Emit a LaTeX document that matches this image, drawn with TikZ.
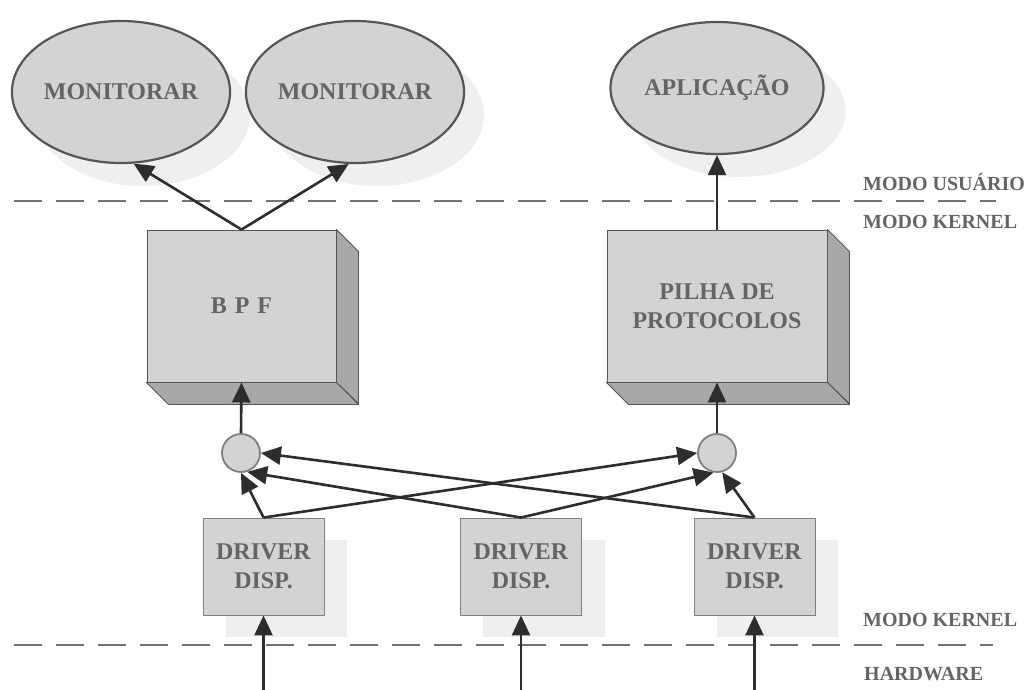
\documentclass[tikz,border=0pt]{standalone}
\usepackage{fontspec}
\setmainfont{Liberation Serif}
\usetikzlibrary{arrows.meta,shapes.geometric,backgrounds,calc}
\definecolor{txtc}{RGB}{100,100,100}
\definecolor{facec}{RGB}{211,211,211}
\definecolor{sidec}{RGB}{168,168,168}
\definecolor{shadc}{RGB}{239,239,239}
\definecolor{edgec}{RGB}{85,85,85}
\definecolor{arrc}{RGB}{45,45,45}
\definecolor{dashc}{RGB}{115,115,115}
\tikzset{
  bigtxt/.style={font=\fontsize{24}{29}\selectfont\bfseries, text=txtc, align=center},
  lbl/.style={font=\fontsize{20}{24}\selectfont\bfseries, text=txtc, anchor=west, inner sep=0pt},
  proc/.style={ellipse, draw=edgec, line width=2.2pt, fill=facec, bigtxt, inner sep=0pt},
  cube/.style={rectangle, draw=edgec, line width=0.9pt, fill=facec, bigtxt, minimum width=189pt, minimum height=152pt, inner sep=0pt},
  drv/.style={rectangle, draw=gray, line width=0.9pt, fill=facec, bigtxt, minimum width=121pt, minimum height=97pt, inner sep=0pt},
  junc/.style={circle, draw=gray, line width=1.8pt, fill=facec, minimum size=38pt, inner sep=0pt},
  conn/.style={draw=arrc, line width=2.6pt, -{Triangle[length=20pt 0,width=18pt 0]}},
  side/.style={fill=sidec, draw=edgec, line width=0.9pt, line join=round},
  sep/.style={draw=dashc, line width=2.2pt, dash pattern=on 28pt off 14pt},
}
\begin{document}
\begin{tikzpicture}[x=1pt,y=-1pt]
\useasboundingbox (0,0) rectangle (1026,690);
% user-space processes
\node[proc, minimum width=214pt, minimum height=142pt] (m1) at (121,92) {MONITORAR};
\node[proc, minimum width=214pt, minimum height=142pt] (m2) at (355,92) {MONITORAR};
\node[proc, minimum width=213pt, minimum height=132pt] (app) at (717,88) {APLICAÇÃO};
% kernel boxes
\node[cube] (bpf) at (241.5,306) {B\,\,P\,\,F};
\node[cube, minimum width=220pt] (pilha) at (717,306) {PILHA DE\\PROTOCOLOS};
\path[side] (bpf.north east) -- ++(22,22) -- ++(0,152) -- ($(bpf.south east)$) -- cycle;
\path[side] (bpf.south west) -- (bpf.south east) -- ++(22,22) -- ($(bpf.south west)+(22,22)$) -- cycle;
\path[side] (pilha.north east) -- ++(22,22) -- ++(0,152) -- ($(pilha.south east)$) -- cycle;
\path[side] (pilha.south west) -- (pilha.south east) -- ++(22,22) -- ($(pilha.south west)+(22,22)$) -- cycle;
% junctions
\node[junc] (lc) at (241,453) {};
\node[junc] (rc) at (717,453) {};
% drivers
\node[drv] (d1) at (263.5,566.5) {DRIVER\\DISP.};
\node[drv] (d2) at (521,566.5) {DRIVER\\DISP.};
\node[drv] (d3) at (754.5,566.5) {DRIVER\\DISP.};
% shadows
\begin{scope}[on background layer]
\fill[shadc] ($(m1.center)+(22,23)$) ellipse [x radius=107pt, y radius=71pt];
\fill[shadc] ($(m2.center)+(22,23)$) ellipse [x radius=107pt, y radius=71pt];
\fill[shadc] ($(app.center)+(22,23)$) ellipse [x radius=106.5pt, y radius=66pt];
\fill[shadc] ($(d1.south west)+(23,22)$) rectangle ($(d1.north east)+(23,22)$);
\fill[shadc] ($(d2.south west)+(23,22)$) rectangle ($(d2.north east)+(23,22)$);
\fill[shadc] ($(d3.south west)+(23,22)$) rectangle ($(d3.north east)+(23,22)$);
\end{scope}
% separators
\coordinate (t1) at (14,201);
\coordinate (t2) at (996,201);
\coordinate (b1) at (14,645);
\coordinate (b2) at (993,645);
\draw[sep] (t1) -- (t2);
\draw[sep] (b1) -- (b2);
\node[lbl] (lu) at (863,182) {MODO USUÁRIO};
\node[lbl] (lk1) at (863,222) {MODO KERNEL};
\node[lbl] (lk2) at (863,620) {MODO KERNEL};
\node[lbl] (lh) at (864,674) {HARDWARE};
% hardware inputs
\coordinate (h1) at (263.5,690);
\coordinate (h2) at (521,690);
\coordinate (h3) at (754.5,690);
\draw[conn] (h1) -- (d1.south);
\draw[conn] (h2) -- (d2.south);
\draw[conn] (h3) -- (d3.south);
% drivers to junctions
\draw[conn] (d1.north) -- (lc.-90);
\draw[conn] (d2.north) -- (lc.-72);
\draw[conn] (d3.north) -- (lc.0);
\draw[conn] (d1.north) -- (rc.180);
\draw[conn] (d2.north) -- (rc.-100);
\draw[conn] (d3.north) -- (rc.-75);
% junctions to boxes
\draw[conn] (lc.north) -- (bpf.south);
\draw[conn] (rc.north) -- (pilha.south);
% boxes to processes
\draw[conn] (bpf.north) -- (m1.-80);
\draw[conn] (bpf.north) -- (m2.-95);
\draw[conn] (pilha.north) -- (app.south);
\end{tikzpicture}
\end{document}
